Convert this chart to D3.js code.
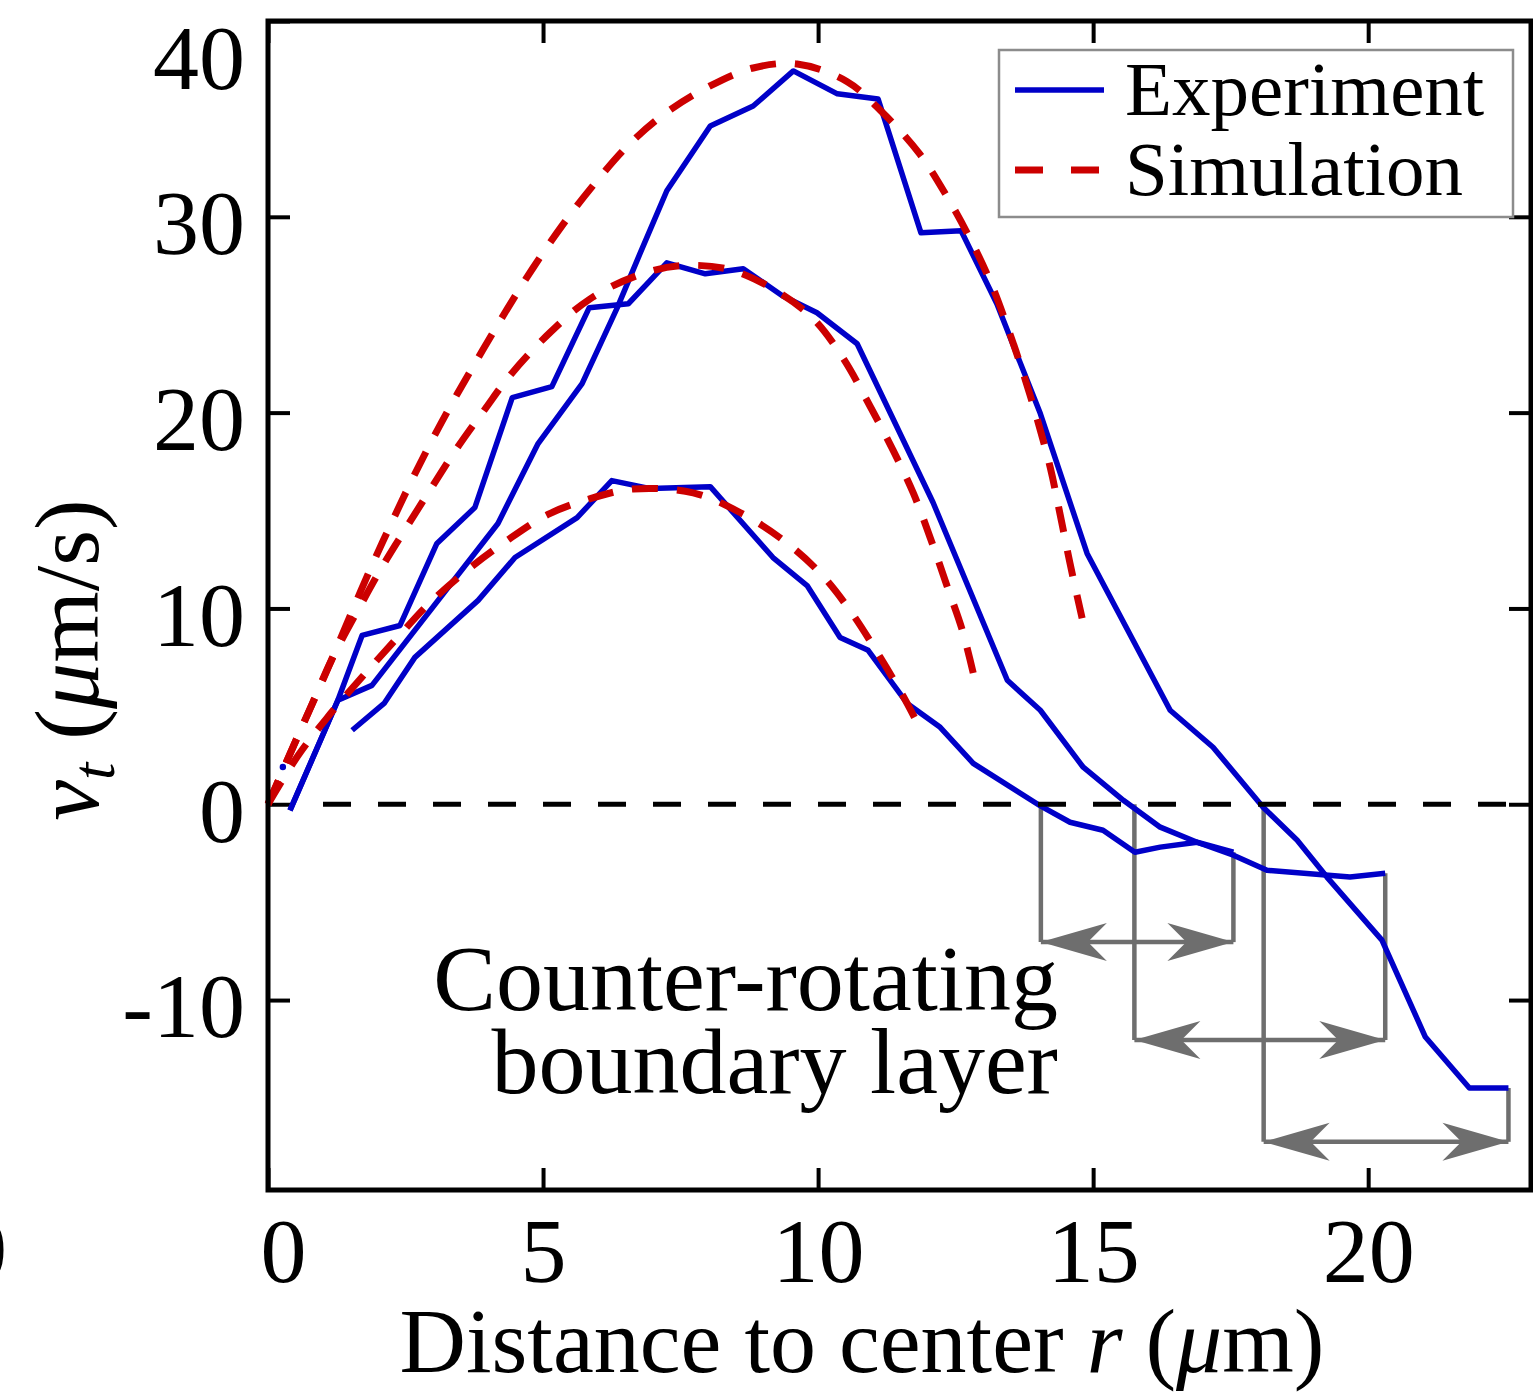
<!DOCTYPE html>
<html>
<head>
<meta charset="utf-8">
<script src="https://cdn.jsdelivr.net/npm/d3@7/dist/d3.min.js"></script>
<style>
body { margin: 0; background: #fff; }
text { font-family: "Liberation Serif", "Times New Roman", serif; fill: #000; }
</style>
</head>
<body>
<div id="chart-area"></div>
<script>
var canvasWidth = 1533
var canvasHeight = 1393
var plot = {left: 268, right: 1531, top: 21, bottom: 1190}

// experiment curves, [r (um), v_t (um/s)]
var expHigh = [[0.40,-0.31],[1.27,5.31],[1.89,6.07],[4.18,14.34],[4.91,18.42],[5.71,21.48],[6.35,25.36],[6.76,28.11],[7.25,31.33],[8.04,34.64],[8.82,35.66],[9.55,37.45],[10.35,36.28],[11.09,36.02],[11.87,29.18],[12.60,29.29],[13.25,25.56],[14.04,19.95],[14.89,12.81],[16.40,4.80],[17.18,2.91],[18.09,-0.15],[18.71,-1.84],[19.25,-3.72],[20.25,-6.94],[21.04,-11.89],[21.84,-14.49],[22.55,-14.49]]
var expMid = [[0.40,-0.31],[1.27,5.31],[1.71,8.62],[2.40,9.13],[3.07,13.32],[3.76,15.15],[4.44,20.77],[5.16,21.33],[5.84,25.36],[6.55,25.56],[7.25,27.65],[7.95,27.09],[8.64,27.35],[9.35,25.97],[9.98,25.10],[10.71,23.52],[12.09,15.41],[13.44,6.33],[14.04,4.80],[14.82,1.89],[15.55,0.20],[16.22,-1.17],[16.89,-1.94],[17.55,-2.60],[18.16,-3.37],[19.67,-3.72],[20.31,-3.52]]
var expLow = [[1.53,3.78],[2.11,5.15],[2.67,7.50],[3.82,10.41],[4.49,12.60],[5.62,14.64],[6.25,16.53],[6.95,16.12],[8.04,16.22],[9.18,12.60],[9.80,11.17],[10.40,8.52],[10.91,7.86],[11.62,5.15],[12.22,3.93],[12.82,2.09],[14.05,-0.10],[14.58,-0.92],[15.18,-1.33],[15.76,-2.45],[16.22,-2.19],[16.89,-1.94],[17.55,-2.45]]
var expDot = [[0.27, 1.9]]

// simulation curves
var simHigh = [[0,0],[0.53,3.4],[0.80,5.1],[1.16,7.4],[1.49,9.6],[1.89,12.2],[2.25,14.4],[2.64,16.7],[3.04,18.9],[3.45,21.0],[4.35,25.3],[4.82,27.4],[5.36,29.6],[5.91,31.6],[6.53,33.6],[7.18,35.2],[7.98,36.6],[8.82,37.6],[9.62,37.8],[10.53,36.9],[11.18,35.3],[11.85,33.2],[12.35,31.0],[12.76,28.9],[13.13,26.7],[13.44,24.4],[13.73,22.0],[13.98,19.7],[14.22,17.2],[14.40,14.8],[14.58,12.3],[14.80,9.5]]
var simMid = [[0,0],[0.53,3.4],[0.80,5.1],[1.16,7.4],[1.71,10.3],[2.09,12.2],[2.53,14.2],[2.98,16.2],[3.44,18.2],[3.95,20.2],[4.40,21.9],[5.13,24.1],[5.85,25.8],[6.71,27.0],[7.49,27.5],[8.40,27.3],[9.25,26.2],[9.91,24.8],[10.45,22.8],[10.95,20.3],[11.36,18.1],[11.73,15.9],[12.04,13.6],[12.35,11.1],[12.62,8.9],[12.82,6.7]]
var simLow = [[0,0],[0.55,2.5],[1.07,4.4],[1.71,6.5],[2.35,8.5],[2.91,10.2],[3.64,12.0],[4.31,13.4],[5.09,14.8],[5.85,15.6],[6.64,16.1],[7.73,15.9],[8.58,14.9],[9.36,13.5],[10.04,11.8],[10.58,9.9],[11.13,7.5],[11.55,5.5],[11.85,3.9]]

var xTicks = [0, 5, 10, 15, 20]
var yTicks = [-10, 0, 10, 20, 30, 40]
var legendLabels = ["Experiment", "Simulation"]
var annotationLines = ["Counter-rotating", "boundary layer"]

// boundary layers: zero crossing r, curve it ends on, level of the arrow
var layerZero = [14.05, 15.75, 18.1]
var layerCurve = [expLow, expMid, expHigh]
var layerArrowV = [-7.04, -12.04, -17.24]

var blue = "#0000c8", red = "#cc0000", grey = "#6e6e6e"

var svg = d3.select("#chart-area")
	.append("svg")
	.attr("width", canvasWidth)
	.attr("height", canvasHeight)
	.style("display", "block")

svg.append("rect").attr("width", canvasWidth).attr("height", canvasHeight).attr("fill", "#fff")

var x = d3.scaleLinear().domain([0, 22.96]).range([plot.left, plot.right])
var y = d3.scaleLinear().domain([-19.7, 40]).range([plot.bottom, plot.top])

var defs = svg.append("defs")
defs.append("marker")
	.attr("id", "head")
	.attr("viewBox", "-68 -21 70 42")
	.attr("refX", 0).attr("refY", 0)
	.attr("markerWidth", 70).attr("markerHeight", 42)
	.attr("markerUnits", "userSpaceOnUse")
	.attr("orient", "auto-start-reverse")
	.append("path")
		.attr("d", "M0,0 L-66,-19 L-47,0 L-66,19 Z")
		.attr("fill", grey)

// ticks (inward)
var tickLen = 22
var axes = svg.append("g").attr("class", "axes")

var xAxis = axes.append("g")
	.attr("transform", "translate(0," + plot.bottom + ")")
	.call(d3.axisBottom(x).tickValues(xTicks).tickSize(-tickLen).tickPadding(27).tickFormat(d3.format("d")))
axes.append("g")
	.attr("transform", "translate(0," + plot.top + ")")
	.call(d3.axisTop(x).tickValues(xTicks).tickSize(-tickLen).tickFormat(""))
var yAxis = axes.append("g")
	.attr("transform", "translate(" + plot.left + ",0)")
	.call(d3.axisLeft(y).tickValues(yTicks).tickSize(-tickLen).tickPadding(23).tickFormat(d3.format("d")))
axes.append("g")
	.attr("transform", "translate(" + plot.right + ",0)")
	.call(d3.axisRight(y).tickValues(yTicks.filter(function(d){ return d < 40 })).tickSize(-tickLen).tickFormat(""))

axes.selectAll(".domain").remove()
axes.selectAll(".tick line").attr("stroke", "#000").attr("stroke-width", 4)
axes.selectAll(".tick text")
	.attr("font-family", "Liberation Serif")
	.attr("font-size", 92)
	.attr("fill", "#000")
yAxis.selectAll(".tick text")
	.attr("dy", function(d){ return d === 40 ? "0.73em" : "0.4em" })
	.text(function(d){ return d < 0 ? "-" + Math.abs(d) : d })
xAxis.selectAll(".tick text")
	.attr("dx", function(d){ return d === 0 ? 15 : 0 })

// stray cropped label at the left edge
svg.append("text")
	.attr("x", 7).attr("y", 1280)
	.attr("text-anchor", "end")
	.attr("font-size", 92)
	.text("0")

// boundary layer brackets
var brackets = svg.append("g").attr("class", "brackets")
layerZero.forEach(function(r0, i){
	var end = layerCurve[i][layerCurve[i].length - 1]
	var ya = y(layerArrowV[i])
	brackets.append("line")
		.attr("x1", x(r0)).attr("x2", x(r0))
		.attr("y1", y(0)).attr("y2", ya)
	brackets.append("line")
		.attr("x1", x(end[0])).attr("x2", x(end[0]))
		.attr("y1", y(end[1])).attr("y2", ya)
	brackets.append("line")
		.attr("x1", x(r0)).attr("x2", x(end[0]))
		.attr("y1", ya).attr("y2", ya)
		.attr("marker-start", "url(#head)")
		.attr("marker-end", "url(#head)")
})
brackets.selectAll("line")
	.attr("stroke", grey)
	.attr("stroke-width", 4.5)

// curves
var expLine = d3.line()
	.x(function(d){ return x(d[0]) })
	.y(function(d){ return y(d[1]) })
var simLine = d3.line()
	.x(function(d){ return x(d[0]) })
	.y(function(d){ return y(d[1]) })
	.curve(d3.curveCatmullRom.alpha(0.5))

svg.append("g").attr("class", "experiment")
	.selectAll("path")
	.data([expHigh, expMid, expLow])
	.enter().append("path")
		.attr("d", expLine)
		.attr("fill", "none")
		.attr("stroke", blue)
		.attr("stroke-width", 5.5)
		.attr("stroke-linejoin", "round")

svg.selectAll(".dot")
	.data(expDot)
	.enter().append("circle")
		.attr("class", "dot")
		.attr("cx", function(d){ return x(d[0]) })
		.attr("cy", function(d){ return y(d[1]) })
		.attr("r", 3.2)
		.attr("fill", blue)

svg.append("g").attr("class", "simulation")
	.selectAll("path")
	.data([simHigh, simMid, simLow])
	.enter().append("path")
		.attr("d", simLine)
		.attr("fill", "none")
		.attr("stroke", red)
		.attr("stroke-width", 7)
		.attr("stroke-dasharray", "26,19")

// zero line
svg.append("line")
	.attr("x1", x(1)).attr("x2", x(22.96))
	.attr("y1", y(0)).attr("y2", y(0))
	.attr("stroke", "#000")
	.attr("stroke-width", 5)
	.attr("stroke-dasharray", "28,27")

// frame
svg.append("rect")
	.attr("x", plot.left).attr("y", plot.top)
	.attr("width", plot.right - plot.left)
	.attr("height", plot.bottom - plot.top)
	.attr("fill", "none")
	.attr("stroke", "#000")
	.attr("stroke-width", 5)

// annotation
svg.selectAll(".anno")
	.data(annotationLines)
	.enter().append("text")
		.attr("class", "anno")
		.attr("x", x(14.36))
		.attr("y", function(d, i){ return y(-10.5) + i * 83 })
		.attr("text-anchor", "end")
		.attr("font-size", 94)
		.text(function(d){ return d })

// axis titles
var xTitle = svg.append("text")
	.attr("x", 862).attr("y", 1372)
	.attr("text-anchor", "middle")
	.attr("font-size", 92)
xTitle.append("tspan").text("Distance to center ")
xTitle.append("tspan").attr("font-style", "italic").text("r")
xTitle.append("tspan").text(" (")
xTitle.append("tspan").attr("font-style", "italic").text("\u03bc")
xTitle.append("tspan").text("m)")

var yTitle = svg.append("text")
	.attr("transform", "translate(98,660) rotate(-90)")
	.attr("text-anchor", "middle")
	.attr("font-size", 92)
yTitle.append("tspan").attr("font-style", "italic").text("v")
yTitle.append("tspan").attr("font-style", "italic").attr("font-size", 62).attr("dy", 16).text("t")
yTitle.append("tspan").attr("dy", -16).text(" (")
yTitle.append("tspan").attr("font-style", "italic").text("\u03bc")
yTitle.append("tspan").text("m/s)")

// legend
var legend = svg.append("g").attr("class", "legend")
legend.append("rect")
	.attr("x", 999).attr("y", 50)
	.attr("width", 514).attr("height", 167)
	.attr("fill", "#fff")
	.attr("stroke", "#8c8c8c")
	.attr("stroke-width", 2.5)

var legendItems = legend.selectAll(".item")
	.data(legendLabels)
	.enter().append("g")
		.attr("class", "item")
		.attr("transform", function(d, i){ return "translate(0," + (90 + i * 80) + ")" })
legendItems.append("line")
	.attr("x1", 1015).attr("x2", 1104)
	.attr("stroke", function(d, i){ return i === 0 ? blue : red })
	.attr("stroke-width", function(d, i){ return i === 0 ? 5.5 : 7 })
	.attr("stroke-dasharray", function(d, i){ return i === 0 ? null : "28,28" })
legendItems.append("text")
	.attr("x", 1125).attr("y", 25)
	.attr("font-size", 77)
	.text(function(d){ return d })
</script>
</body>
</html>
